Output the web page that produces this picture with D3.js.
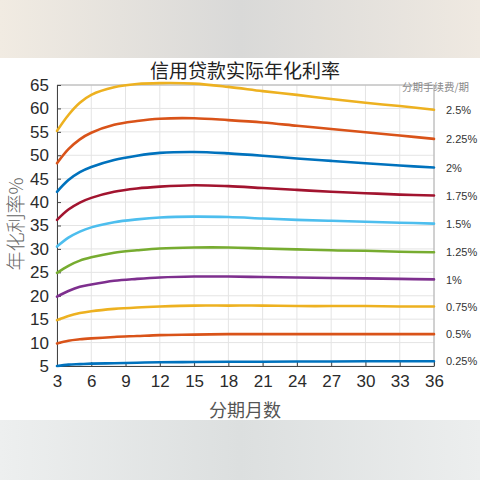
<!DOCTYPE html>
<html>
<head>
<meta charset="utf-8">
<script src="https://cdn.jsdelivr.net/npm/d3@7"></script>
<style>
  html, body { margin: 0; padding: 0; background: #fff; }
  svg { display: block; font-family: "Liberation Sans", Arial, "Noto Sans CJK SC", sans-serif; }
  .cjk { font-family: "Noto Sans CJK SC", sans-serif; }
</style>
</head>
<body>
<div id="chart"></div>
<script>
// months on the x axis
var months = [3, 4, 5, 6, 8, 10, 12, 15, 18, 21, 24, 27, 30, 33, 36];

var feeLabels = ['0.25%', '0.5%', '0.75%', '1%', '1.25%', '1.5%', '1.75%', '2%', '2.25%', '2.5%'];
var rate025 = [5.0, 5.3, 5.4, 5.5, 5.6, 5.7, 5.8, 5.85, 5.9, 5.9, 5.95, 5.95, 6.0, 6.0, 6.0];
var rate050 = [9.8, 10.4, 10.7, 10.9, 11.2, 11.4, 11.6, 11.7, 11.8, 11.8, 11.8, 11.8, 11.8, 11.8, 11.8];
var rate075 = [14.8, 15.7, 16.3, 16.7, 17.2, 17.5, 17.7, 17.9, 17.9, 17.9, 17.8, 17.8, 17.8, 17.7, 17.7];
var rate100 = [19.8, 21.0, 21.9, 22.4, 23.2, 23.6, 23.9, 24.1, 24.1, 24.0, 23.9, 23.8, 23.7, 23.6, 23.5];
var rate125 = [24.9, 26.4, 27.5, 28.2, 29.2, 29.7, 30.1, 30.3, 30.3, 30.1, 29.9, 29.7, 29.6, 29.4, 29.3];
var rate150 = [30.5, 32.4, 33.7, 34.6, 35.7, 36.3, 36.7, 36.9, 36.8, 36.5, 36.2, 36.0, 35.8, 35.6, 35.4];
var rate175 = [36.2, 38.4, 39.9, 40.9, 42.2, 42.9, 43.3, 43.6, 43.4, 43.0, 42.6, 42.2, 41.9, 41.6, 41.4];
var rate200 = [42.2, 44.7, 46.4, 47.5, 49.0, 49.9, 50.5, 50.7, 50.4, 49.9, 49.3, 48.8, 48.3, 47.8, 47.4];
var rate225 = [48.3, 51.3, 53.4, 54.8, 56.5, 57.3, 57.8, 57.9, 57.5, 57.0, 56.3, 55.6, 54.9, 54.2, 53.5];
var rate250 = [55.2, 58.6, 61.2, 62.9, 64.5, 65.2, 65.4, 65.3, 64.6, 63.7, 62.9, 62.0, 61.2, 60.5, 59.7];

var xTicks = [3, 6, 9, 12, 15, 18, 21, 24, 27, 30, 33, 36];
var yTicks = [5, 10, 15, 20, 25, 30, 35, 40, 45, 50, 55, 60, 65];

var allRates = [rate025, rate050, rate075, rate100, rate125, rate150, rate175, rate200, rate225, rate250];
var colors = ['#0072BD', '#D95319', '#EDB120', '#7E2F8E', '#77AC30', '#4DBEEE', '#A2142F', '#0072BD', '#D95319', '#EDB120'];

var width = 480, height = 480;
var plotLeft = 57, plotRight = 434, plotTop = 85, plotBottom = 366;

var svg = d3.select('#chart')
    .append('svg')
    .attr('width', width)
    .attr('height', height);

// photo-like bands above and below the white sheet
var defs = svg.append('defs');
var topGrad = defs.append('linearGradient').attr('id', 'topGrad');
topGrad.append('stop').attr('offset', '0%').attr('stop-color', '#f1ebe2');
topGrad.append('stop').attr('offset', '50%').attr('stop-color', '#d9d9d8');
topGrad.append('stop').attr('offset', '100%').attr('stop-color', '#efe9e1');
var botGrad = defs.append('linearGradient').attr('id', 'botGrad');
botGrad.append('stop').attr('offset', '0%').attr('stop-color', '#edefef');
botGrad.append('stop').attr('offset', '50%').attr('stop-color', '#dcdfdf');
botGrad.append('stop').attr('offset', '100%').attr('stop-color', '#eceeee');

svg.append('rect').attr('width', width).attr('height', 58).attr('fill', 'url(#topGrad)');
svg.append('rect').attr('y', 420).attr('width', width).attr('height', 60).attr('fill', 'url(#botGrad)');

var x = d3.scaleLinear().domain([3, 36]).range([plotLeft, plotRight]);
var y = d3.scaleLinear().domain([5, 65]).range([plotBottom, plotTop]);

// Grid
svg.append('g')
    .selectAll('line')
    .data(xTicks)
    .enter()
    .append('line')
    .attr('x1', d => x(d)).attr('x2', d => x(d))
    .attr('y1', plotTop).attr('y2', plotBottom)
    .attr('stroke', '#e4e4e4');

svg.append('g')
    .selectAll('line')
    .data(yTicks)
    .enter()
    .append('line')
    .attr('x1', plotLeft).attr('x2', plotRight)
    .attr('y1', d => y(d)).attr('y2', d => y(d))
    .attr('stroke', '#e4e4e4');

// Box (top / right)
svg.append('path')
    .attr('d', 'M' + plotLeft + ',' + plotTop + 'H' + plotRight + 'V' + plotBottom)
    .attr('fill', 'none')
    .attr('stroke', '#b0b0b0');

// Axes
var xAxis = svg.append('g')
    .attr('transform', 'translate(0,' + plotBottom + ')')
    .call(d3.axisBottom(x).tickValues(xTicks).tickSizeInner(-4).tickSizeOuter(0).tickPadding(9));
var yAxis = svg.append('g')
    .attr('transform', 'translate(' + plotLeft + ',0)')
    .call(d3.axisLeft(y).tickValues(yTicks).tickSizeInner(-4).tickSizeOuter(0).tickPadding(8));

[xAxis, yAxis].forEach(function (a) {
    a.select('.domain').attr('stroke', '#444');
    a.selectAll('.tick line').attr('stroke', '#444');
    a.selectAll('.tick text')
        .attr('fill', '#2b2b2b')
        .style('font-size', '17px')
        .style('font-family', '"Liberation Sans", Arial, sans-serif');
});

// Lines
var line = d3.line()
    .x((d, i) => x(months[i]))
    .y(d => y(d))
    .curve(d3.curveCatmullRom.alpha(0.5));

svg.append('g')
    .selectAll('path')
    .data(allRates)
    .enter()
    .append('path')
    .attr('d', d => line(d))
    .attr('fill', 'none')
    .attr('stroke', (d, i) => colors[i])
    .attr('stroke-width', 2.6)
    .attr('stroke-linecap', 'round');

// End labels
svg.append('g')
    .selectAll('text')
    .data(allRates)
    .enter()
    .append('text')
    .attr('x', 446)
    .attr('y', d => y(d[d.length - 1]))
    .attr('dy', '0.38em')
    .attr('fill', '#333')
    .style('font-size', '11px')
    .text((d, i) => feeLabels[i]);

svg.append('text')
    .attr('class', 'cjk')
    .attr('x', 402)
    .attr('y', 91)
    .attr('fill', '#8a8a8a')
    .style('font-size', '10.5px')
    .text('分期手续费/期');

// Title and axis labels
svg.append('text')
    .attr('class', 'cjk')
    .attr('x', 245)
    .attr('y', 78)
    .attr('text-anchor', 'middle')
    .attr('fill', '#222')
    .style('font-size', '19px')
    .text('信用贷款实际年化利率');

svg.append('text')
    .attr('class', 'cjk')
    .attr('x', 245)
    .attr('y', 417)
    .attr('text-anchor', 'middle')
    .attr('fill', '#555')
    .style('font-size', '18px')
    .text('分期月数');

svg.append('text')
    .attr('class', 'cjk')
    .attr('transform', 'translate(23,224) rotate(-90)')
    .attr('text-anchor', 'middle')
    .attr('fill', '#666')
    .style('font-size', '19px')
    .style('font-weight', '300')
    .text('年化利率%');
</script>
</body>
</html>
